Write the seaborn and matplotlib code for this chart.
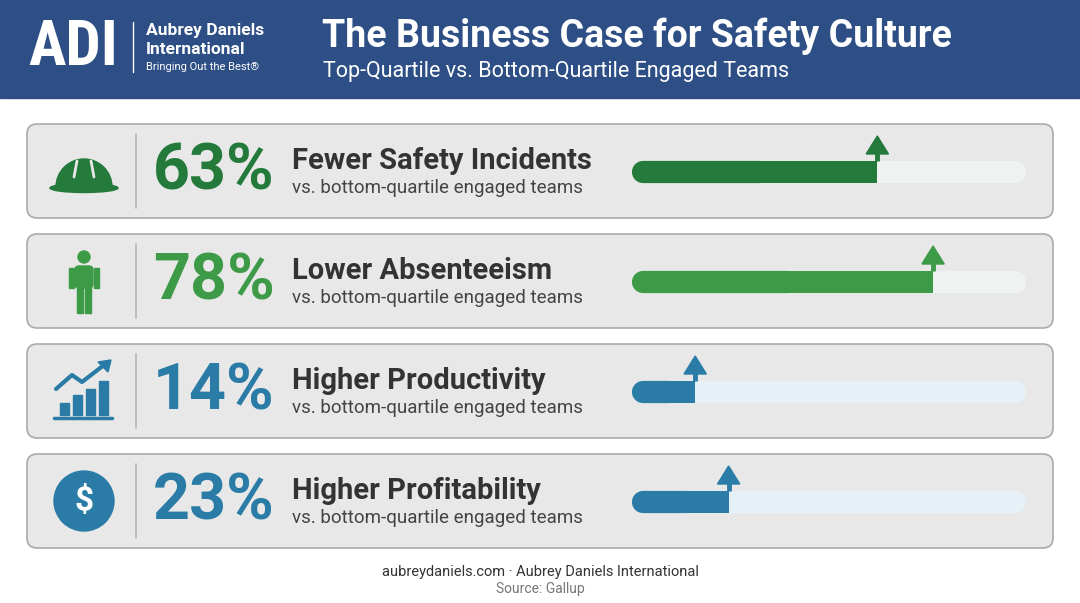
import matplotlib
matplotlib.use("Agg")
import matplotlib.pyplot as plt
import seaborn as sns
from matplotlib.patches import FancyBboxPatch, Rectangle, Circle, Wedge, Polygon, Ellipse

sns.set_theme(style="white")
plt.rcParams['font.family'] = ['Roboto', 'DejaVu Sans']

values = [63, 78, 14, 23]
labels = ["Fewer Safety Incidents", "Lower Absenteeism", "Higher Productivity", "Higher Profitability"]
subtitle = "vs. bottom-quartile engaged teams"
colors = ["#237a3a", "#3d9a47", "#2a7ca6", "#2a7ca6"]
track_colors = ["#eef2f0", "#eef2f0", "#e6f1f7", "#e6f1f7"]
icons = ["helmet", "person", "chart", "dollar"]

W, H = 1080, 603
fig = plt.figure(figsize=(W/100, H/100), dpi=100)
ax = fig.add_axes([0, 0, 1, 1])
ax.set_xlim(0, W); ax.set_ylim(H, 0); ax.axis("off")
fig.patch.set_facecolor("white")

# header
ax.add_patch(Rectangle((0, 0), W, 98, color="#2e4f86", zorder=1))
ax.text(28, 48, "ADI", color="white", fontsize=45, fontweight="bold", va="center", ha="left",
        family=["Roboto Condensed", "Roboto", "DejaVu Sans"], zorder=3)
ax.plot([133, 133], [22, 72], color="white", lw=1, zorder=3)
ax.text(146, 31, "Aubrey Daniels", color="white", fontsize=12.5, fontweight="bold", va="center", zorder=3)
ax.text(146, 49, "International", color="white", fontsize=12.5, fontweight="bold", va="center", zorder=3)
ax.text(146, 67, "Bringing Out the Best\u00ae", color="white", fontsize=8, va="center", zorder=3)
ax.text(322, 36, "The Business Case for Safety Culture", color="white", fontsize=27, fontweight="bold",
        va="center", zorder=3)
ax.text(323, 71, "Top-Quartile vs. Bottom-Quartile Engaged Teams", color="white", fontsize=15.5,
        va="center", zorder=3)

row_tops = [124, 234, 344, 454]
row_h = 94
for i, (v, lab, c, tc, ic) in enumerate(zip(values, labels, colors, track_colors, icons)):
    y0 = row_tops[i]; cy = y0 + row_h/2
    ax.add_patch(FancyBboxPatch((27, y0), 1026, row_h, boxstyle="round,pad=0,rounding_size=10",
                                fc="#e8e8e8", ec="#aaaaaa", lw=1.2, zorder=1))
    ax.plot([136, 136], [y0+10, y0+row_h-10], color="#b5b5b5", lw=1.2, zorder=2)
    ix, iy = 84, cy
    if ic == "helmet":
        ax.add_patch(Wedge((ix, iy+16), 28, 180, 360, color=c, zorder=3))
        ax.add_patch(Ellipse((ix, iy+17), 68, 9, color=c, zorder=3))
        ax.plot([ix-7, ix-10], [iy-10, iy+6], color="#e8e8e8", lw=2, zorder=4)
        ax.plot([ix+7, ix+10], [iy-10, iy+6], color="#e8e8e8", lw=2, zorder=4)
    elif ic == "person":
        ax.add_patch(Circle((ix, iy-24), 6, color=c, zorder=3))
        ax.add_patch(FancyBboxPatch((ix-9, iy-15), 18, 22, boxstyle="round,pad=0,rounding_size=4", color=c, zorder=3))
        ax.add_patch(Rectangle((ix-7, iy+5), 6, 27, color=c, zorder=3))
        ax.add_patch(Rectangle((ix+1, iy+5), 6, 27, color=c, zorder=3))
        ax.add_patch(Rectangle((ix-15, iy-13), 5, 20, color=c, zorder=3))
        ax.add_patch(Rectangle((ix+10, iy-13), 5, 20, color=c, zorder=3))
    elif ic == "chart":
        for k, h in enumerate([12, 20, 26, 34]):
            ax.add_patch(Rectangle((ix-24+k*13, iy+24-h), 9, h, color=c, zorder=3))
        ax.plot([ix-30, ix+28], [iy+27, iy+27], color=c, lw=2.5, zorder=3)
        ax.plot([ix-28, ix-12, ix-2, ix+20], [iy-2, iy-16, iy-9, iy-26], color=c, lw=3, zorder=3)
        ax.add_patch(Polygon([[ix+27, iy-31], [ix+14, iy-29], [ix+24, iy-19]], color=c, zorder=3))
    else:
        ax.add_patch(Circle((ix, iy), 30, color=c, zorder=3))
        ax.text(ix, iy, "$", color="white", fontsize=24, fontweight="bold", ha="center", va="center", zorder=4)
    ax.text(153, cy+1, f"{v}%", color=c, fontsize=46.5, fontweight="bold", va="center", zorder=3)
    ax.text(292, cy-10, lab, color="#333333", fontsize=21, fontweight="bold", va="center", zorder=3)
    ax.text(292, cy+17, subtitle, color="#444444", fontsize=13.5, va="center", zorder=3)

    # bar inset axes: x in percent, y in pixels
    bax = fig.add_axes([632/W, 1-(y0+row_h)/H, (1026-632)/W, row_h/H])
    bax.set_xlim(-3, 103); bax.set_ylim(y0+row_h, y0); bax.axis("off")
    by = cy + 1
    bax.plot([0, 100], [by, by], color=tc, lw=16, solid_capstyle="round", zorder=1)
    bax.plot([0, v/2], [by, by], color=c, lw=16, solid_capstyle="round", zorder=2)
    bax.barh([by], [v], height=22, left=0, color=c, linewidth=0, zorder=2)
    bax.plot([v, v], [by-11, y0+28], color=c, lw=3.5, solid_capstyle="butt", zorder=3)
    bax.add_patch(Polygon([[v-3.0, y0+30], [v+3.0, y0+30], [v, y0+12]], color=c, zorder=3))

ax.text(540, 572, "aubreydaniels.com \u00b7 Aubrey Daniels International", color="#333333", fontsize=10.5,
        ha="center", va="center")
ax.text(540, 589, "Source: Gallup", color="#777777", fontsize=10, ha="center", va="center")

fig.savefig("out.png", dpi=100, facecolor="white")
